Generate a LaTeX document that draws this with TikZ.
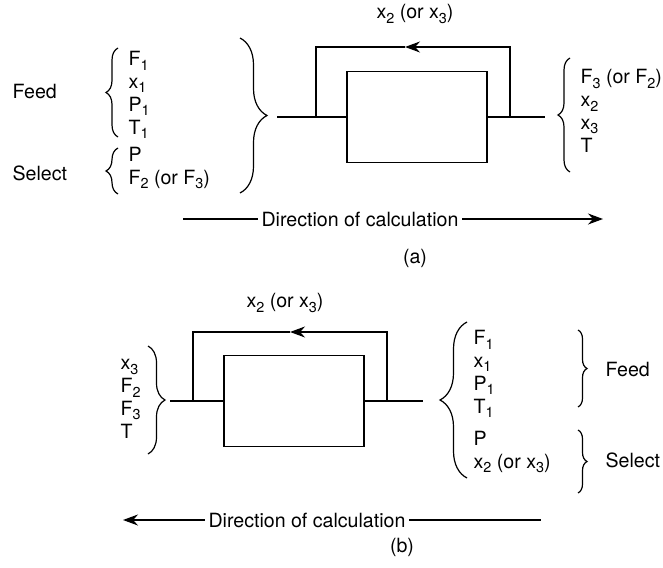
\documentclass[tikz,border=0pt]{standalone}
\usepackage{fontspec}
\setmainfont{TeX Gyre Heros}
\usetikzlibrary{arrows.meta,decorations.pathreplacing}
\newcommand{\sub}[1]{\raisebox{-0.42ex}{\fontsize{7.2}{8}\selectfont #1}}
\begin{document}
\begin{tikzpicture}[
  x=0.5pt, y=-0.5pt,
  every node/.style={font=\fontsize{9.8}{11.4}\selectfont},
  unit/.style={draw, minimum width=70pt, minimum height=45.5pt, inner sep=0pt},
  lst/.style={align=left, anchor=west, inner sep=0pt},
  txt/.style={inner sep=1.5pt},
  brc/.style={decorate, decoration={brace, amplitude=#1}},
  >={Stealth[length=7.5pt,width=5.5pt]},
  line width=0.6pt
]
\useasboundingbox (0,0) rectangle (663,567);
% (a)
\node[unit] (boxa) at (417,117) {};
\node[txt] (recya) at (415,14) {x\sub{2} (or x\sub{3})};
\coordinate (ina) at (277,117);
\coordinate (outa) at (545,117);
\coordinate (tapLa) at (316,117);
\coordinate (tapRa) at (510,117);
\coordinate (arra) at (405,47);
\draw (ina) -- (boxa.west);
\draw (boxa.east) -- (outa);
\draw[->] (tapRa) |- (arra);
\draw (arra) -| (tapLa);
\node[lst] (feeda) at (128,95) {F\sub{1}\\x\sub{1}\\P\sub{1}\\T\sub{1}};
\node[lst] (sela) at (128,168) {P\\F\sub{2} (or F\sub{3})};
\node[lst] (resa) at (580,111) {F\sub{3} (or F\sub{2})\\x\sub{2}\\x\sub{3}\\T};
\node[lst] (feedlbla) at (12,92) {Feed};
\node[lst] (sellbla) at (12,173) {Select};
\draw[brc=6pt] (118,137) -- (118,48);
\draw[brc=6pt] (118,194) -- (118,148);
\draw[brc=13.5pt] (240,38) -- (240,193);
\draw[brc=6pt] (570,172) -- (570,58);
\node[txt] (dira) at (360,219) {Direction of calculation};
\coordinate (dirLa) at (183,219);
\coordinate (dirRa) at (603,219);
\draw (dirLa) -- (dira);
\draw[->] (dira) -- (dirRa);
\node[txt] (capa) at (415,258) {(a)};
% (b)
\node[unit] (boxb) at (294,401) {};
\node[txt] (recyb) at (285,303) {x\sub{2} (or x\sub{3})};
\coordinate (inb) at (170,401);
\coordinate (outb) at (423,401);
\coordinate (tapLb) at (193,401);
\coordinate (tapRb) at (387,401);
\coordinate (arrb) at (290,332);
\draw (inb) -- (boxb.west);
\draw (boxb.east) -- (outb);
\draw[->] (tapRb) |- (arrb);
\draw (arrb) -| (tapLb);
\node[lst] (resb) at (120,399) {x\sub{3}\\F\sub{2}\\F\sub{3}\\T};
\node[lst] (feedb) at (473,374) {F\sub{1}\\x\sub{1}\\P\sub{1}\\T\sub{1}};
\node[lst] (selb) at (473,452) {P\\x\sub{2} (or x\sub{3})};
\node[lst] (feedlblb) at (605,369) {Feed};
\node[lst] (sellblb) at (605,460) {Select};
\draw[brc=8.5pt] (148,346) -- (148,454);
\draw[brc=13.5pt] (467,478) -- (467,322);
\draw[brc=4.5pt] (578,330) -- (578,407);
\draw[brc=4.5pt] (578,430) -- (578,493);
\node[txt] (dirb) at (307,520) {Direction of calculation};
\coordinate (dirLb) at (123,520);
\coordinate (dirRb) at (541,520);
\draw[->] (dirb) -- (dirLb);
\draw (dirb) -- (dirRb);
\node[txt] (capb) at (402,547) {(b)};
\end{tikzpicture}
\end{document}
